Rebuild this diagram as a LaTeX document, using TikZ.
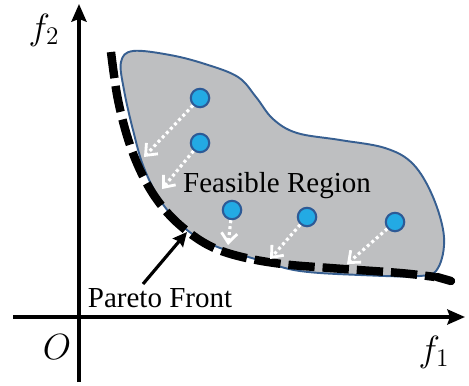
\documentclass[tikz,border=0pt]{standalone}
\usepackage{fontspec}
\setmainfont{Liberation Serif}
\newfontfamily\tnr{Liberation Serif}
\usetikzlibrary{arrows.meta}
\definecolor{regfill}{RGB}{190,191,193}
\definecolor{regline}{RGB}{55,95,145}
\definecolor{ptfill}{RGB}{35,170,228}
\definecolor{ptline}{RGB}{45,90,150}
\begin{document}
\begin{tikzpicture}[x=0.02cm,y=-0.02cm,
  axis/.style={line width=2.3pt,-{Stealth[length=10pt,width=8.5pt,inset=1.5pt]}},
  region/.style={fill=regfill,draw=regline,line width=1.1pt},
  front/.style={line width=4.8pt,dash pattern=on 15pt off 4.5pt},
  pt/.style={circle,fill=ptfill,draw=ptline,line width=1.2pt,minimum size=10.5pt,inner sep=0pt},
  move/.style={white,line width=1.8pt,dash pattern=on 1.7pt off 1.7pt,-{Straight Barb[length=5.5pt,width=9pt,line width=1.6pt]}},
  lbl/.style={font=\tnr\fontsize{16.5}{18}\selectfont,inner sep=0pt,anchor=base},
  mlbl/.style={font=\fontsize{21}{23}\selectfont,inner sep=0pt}]
\useasboundingbox (0,0) rectangle (469,385);
% axes
\coordinate (ys) at (79,382);
\coordinate (ye) at (79,4);
\coordinate (xs) at (13,317);
\coordinate (xe) at (465,317);
\draw[axis] (ys) -- (ye);
\draw[axis] (xs) -- (xe);
\node[mlbl] (f2) at (44,30) {$f_2$};
\node[mlbl] (f1) at (434,352) {$f_1$};
\node[mlbl] (o) at (57,347) {$O$};
% feasible region
\draw[region] plot[smooth cycle,tension=0.6] coordinates {
 (121,62) (133,51) (170,55) (205,64) (238,77) (256,97) (273,119) (297,133)
 (340,140) (385,148) (413,164) (433,197) (444,237) (438,268) (420,276)
 (360,275) (300,271) (262,261) (215,246) (187,230) (162,203) (144,168)
 (133,130) (124,90)};
% pareto front
\draw[front] plot[smooth,tension=0.6] coordinates {
 (111,52) (118,100) (130,145) (146,182) (165,210) (187,231) (212,247)
 (242,257) (282,264) (330,268) (400,273) (435,277)};
\draw[line width=4.8pt,line cap=round] (437,277) -- (451,281);
% points
\node[pt] (p1) at (200,98) {};
\node[pt] (p2) at (200,143) {};
\node[pt] (p3) at (232,210) {};
\node[pt] (p4) at (307,217) {};
\node[pt] (p5) at (395,222) {};
\coordinate (t1) at (144,157);
\coordinate (t2) at (162,189);
\coordinate (t3) at (228,245);
\coordinate (t4) at (270,259);
\coordinate (t5) at (347,264);
\draw[move] (p1) -- (t1);
\draw[move] (p2) -- (t2);
\draw[move] (p3) -- (t3);
\draw[move] (p4) -- (t4);
\draw[move] (p5) -- (t5);
% labels
\node[lbl] (fr) at (277,192) {Feasible Region};
\node[lbl] (pf) at (160,307) {Pareto Front};
\coordinate (pft) at (187,232);
\draw[line width=1.8pt,-{Stealth[length=8pt,width=7.5pt,inset=1pt]}] (143,284) -- (pft);
\end{tikzpicture}
\end{document}
